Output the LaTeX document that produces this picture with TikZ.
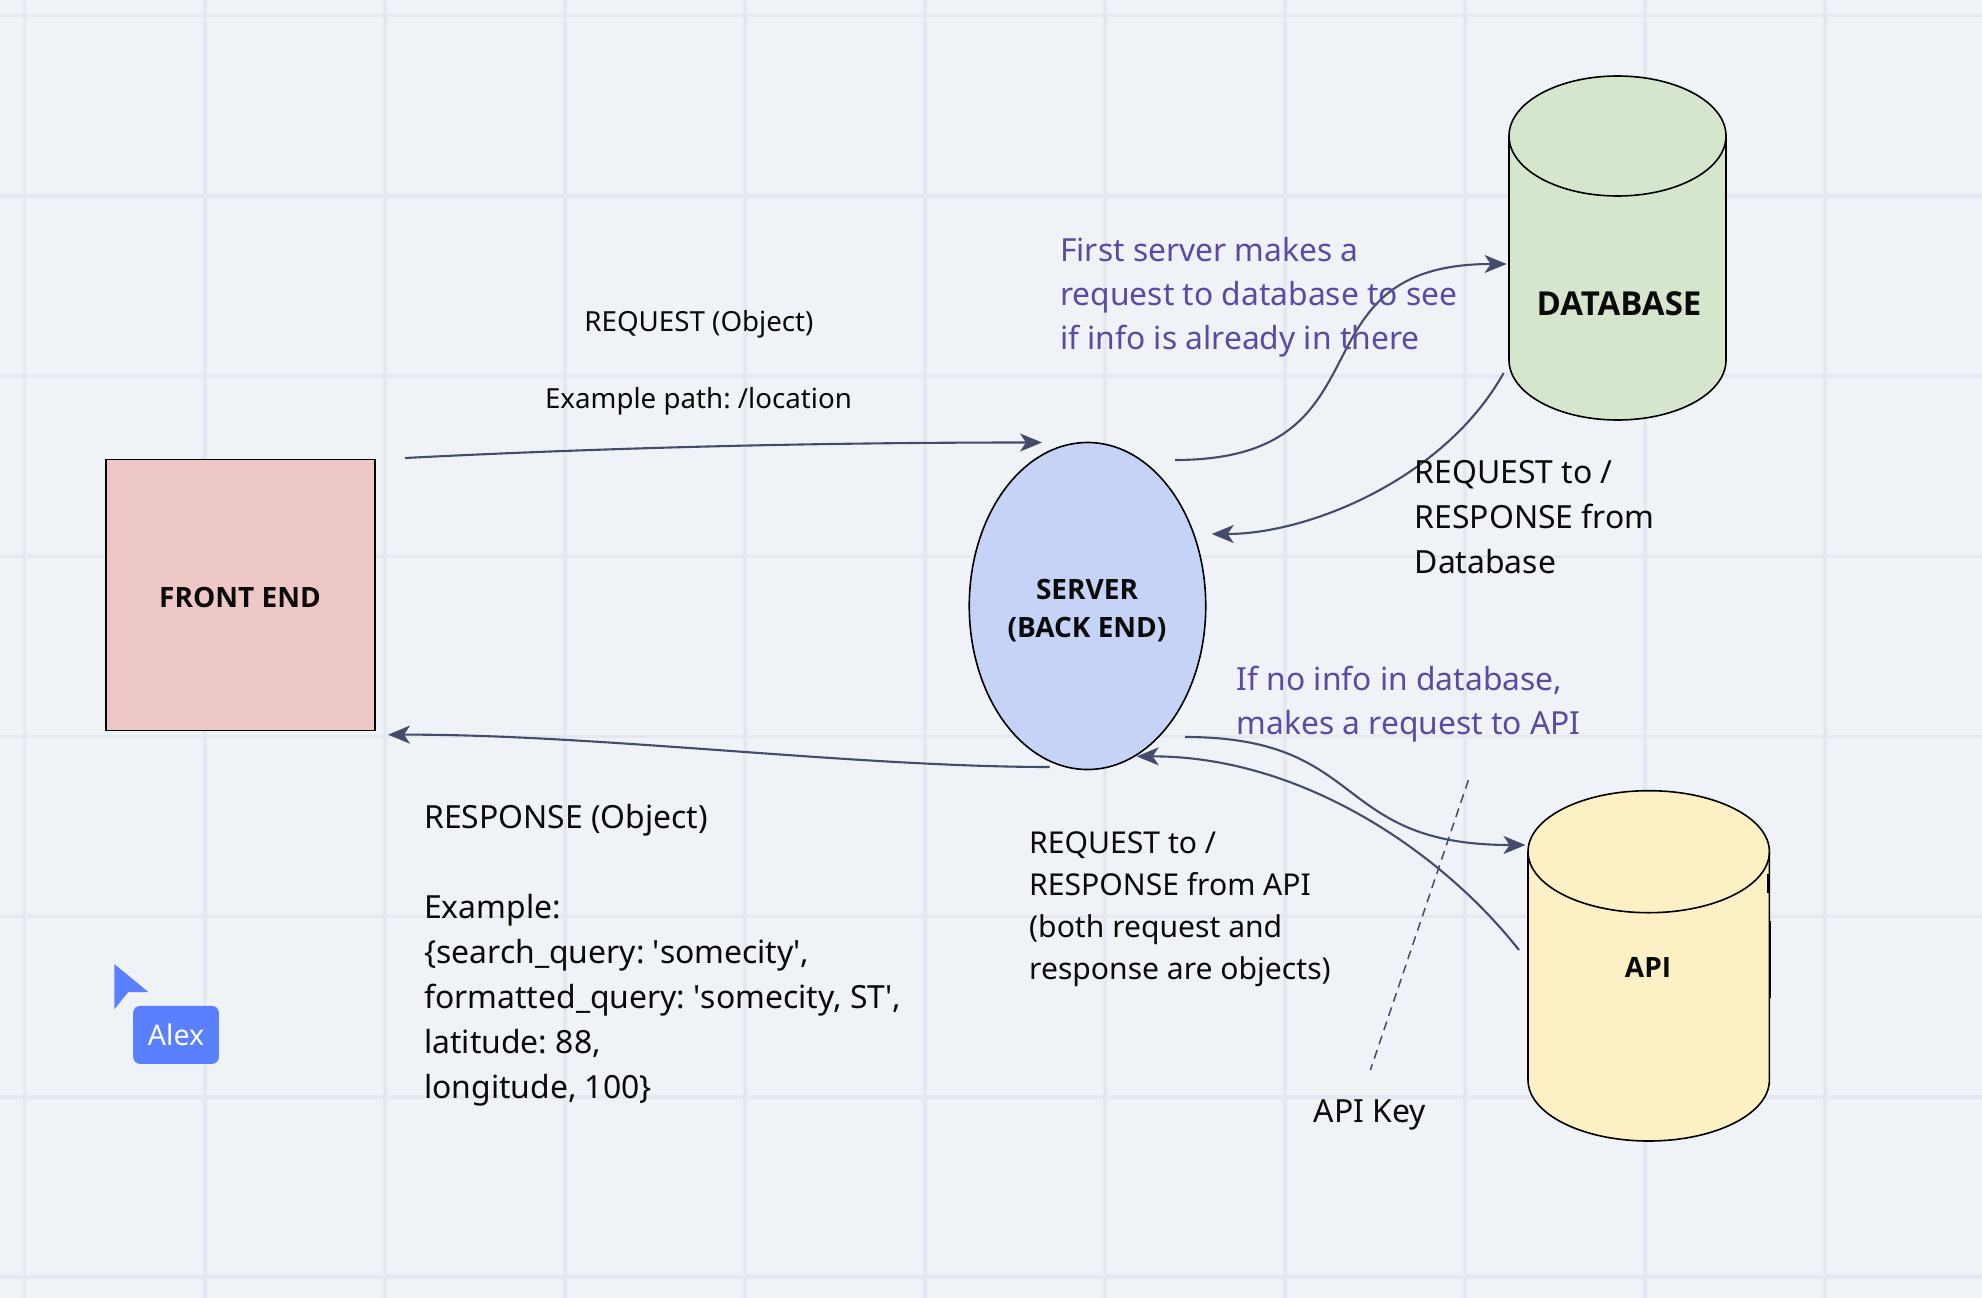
\documentclass[tikz,border=0pt]{standalone}
\usepackage{fontspec}
\setmainfont{Noto Sans}
\newfontfamily\titlefont{Open Sans}
\usetikzlibrary{arrows.meta,shapes.geometric}
\definecolor{bgc}{HTML}{EFF2F7}
\definecolor{gridc}{HTML}{E5E8F0}
\definecolor{linec}{HTML}{444B6B}
\definecolor{purp}{HTML}{5B4AA3}
\definecolor{txt}{HTML}{0A0A0A}
\definecolor{pinkc}{HTML}{EEC8C6}
\definecolor{bluec}{HTML}{C4D3F6}
\definecolor{greenc}{HTML}{D6E6CD}
\definecolor{yellowc}{HTML}{FCF0C4}
\definecolor{cursorc}{HTML}{5A7FFF}
\tikzset{
  x=1pt,y=-1pt,
  gridline/.style={gridc,line width=3.2pt},
  conn/.style={linec,line width=2.1pt,-{Stealth[length=22pt,width=18pt,inset=6pt]}},
  shapeline/.style={draw=black,line width=1.6pt},
  lbl/.style={anchor=base west,inner sep=0pt,align=left,text=txt,font=\fontsize{31.9}{45}\selectfont\frenchspacing},
  note/.style={lbl,text=purp,font=\fontsize{31.8}{44}\selectfont\frenchspacing},
  small/.style={lbl,font=\fontsize{30.1}{42}\selectfont\frenchspacing},
  tiny/.style={lbl,anchor=base,font=\fontsize{27.7}{38}\selectfont\frenchspacing},
  title/.style={inner sep=0pt,anchor=base,align=center,text=txt,font=\titlefont\fontsize{28}{38}\selectfont\bfseries},
}
\newcommand{\cyl}[6]{% cx, rx, ry, topcentre y, bottomcentre y, fill
  \fill[#6] ({#1-#2},#4) arc[start angle=180,end angle=0,x radius=#2,y radius=-#3]
     -- ({#1+#2},#5) arc[start angle=0,end angle=-180,x radius=#2,y radius=-#3] -- cycle;
  \draw[shapeline] ({#1-#2},#4) arc[start angle=180,end angle=0,x radius=#2,y radius=-#3]
     -- ({#1+#2},#5) arc[start angle=0,end angle=-180,x radius=#2,y radius=-#3] -- cycle;
  \draw[shapeline] ({#1-#2},#4) arc[start angle=180,end angle=360,x radius=#2,y radius=-#3];
}
\begin{document}
\begin{tikzpicture}
\useasboundingbox (0,0) rectangle (1982,1298);
\fill[bgc] (0,0) rectangle (1982,1298);
\foreach \gx in {24.7,205,385,565,745,925,1105,1285,1465,1645,1825}
  \draw[gridline] (\gx,0) -- (\gx,1298);
\foreach \gy in {15.5,196,376,556.5,736.5,916.5,1097,1277}
  \draw[gridline] (0,\gy) -- (1982,\gy);

% shapes
\node[shapeline,fill=pinkc,rectangle,anchor=north west,minimum width=269pt,minimum height=271pt,inner sep=0pt] (front) at (105.2,458.7) {};
\node[title] (frontlabel) at (240,607.8) {FRONT END};
\node[shapeline,fill=bluec,ellipse,minimum width=236.5pt,minimum height=327pt,inner sep=0pt] (server) at (1087.5,606) {};
\node[title] (serverlabel) at (1087,637) {SERVER\\(BACK END)};
\cyl{1617.5}{108.5}{60}{136}{360}{greenc}
\node[title,font=\titlefont\fontsize{33}{40}\selectfont\bfseries] (db) at (1619,315.3) {DATABASE};
\cyl{1648.7}{120.7}{61}{851.7}{1080}{yellowc}
\draw[black,line width=2.2pt] (1769.6,921) -- (1769.6,998);
\draw[black,line width=1.6pt] (1768,874) -- (1768,893);
\node[title] (api) at (1648,977.2) {API};

% connector ends
\coordinate (fe1) at (405,458);   \coordinate (sv1) at (1042,442.5);
\coordinate (sv2) at (1175,460);  \coordinate (db1) at (1506.6,264);
\coordinate (db2) at (1503.6,373);\coordinate (sv3) at (1211.7,534);
\coordinate (sv4) at (1049.6,767);\coordinate (fe2) at (388,734.7);
\coordinate (sv5) at (1185,737);  \coordinate (ap1) at (1525.5,845);
\coordinate (ap2) at (1519,950);  \coordinate (sv6) at (1136.7,756.4);
\coordinate (ks) at (1468.4,780); \coordinate (ke) at (1370.4,1070);

\draw[conn] (fe1) .. controls (620,447) and (830,442.5) .. (sv1);
\draw[conn] (sv2) .. controls (1398,460) and (1285,264) .. (db1);
\draw[conn] (db2) .. controls (1445,478) and (1310,534) .. (sv3);
\draw[conn] (sv4) .. controls (855,767) and (595,734) .. (fe2);
\draw[conn] (sv5) .. controls (1370,737) and (1330,845) .. (ap1);
\draw[conn] (ap2) .. controls (1440,850) and (1300,756) .. (sv6);
\draw[linec,line width=1.5pt,dash pattern=on 9pt off 6pt] (ks) -- (ke);

% labels
\node[tiny] (reqobj) at (699,331) {REQUEST (Object)};
\node[tiny] (reqpath) at (698.5,408) {Example path: /location};
\node[note] (n1) at (1060,349.5) {First server makes a\\request to database to see\\if info is already in there};
\node[lbl] (l1) at (1414.5,573.2) {REQUEST to /\\RESPONSE from\\Database};
\node[note] (n2) at (1236.5,734.9) {If no info in database,\\makes a request to API};
\node[small] (l2) at (1029,979.2) {REQUEST to /\\RESPONSE from API\\(both request and\\response are objects)};
\node[lbl] (l3) at (424,1098.5) {RESPONSE (Object)\\[\baselineskip]Example:\\\{search\_query: \textquotesingle somecity\textquotesingle,\\formatted\_query: \textquotesingle somecity, ST\textquotesingle,\\latitude: 88,\\longitude, 100\}};
\node[lbl,anchor=base] (key) at (1370,1122.2) {API Key};

% cursor
\fill[cursorc] (114.3,964) -- (148.3,992) -- (128.3,992) -- (114.3,1009.3) -- cycle;
\node[fill=cursorc,rounded corners=7pt,anchor=north west,minimum width=85.7pt,minimum height=58pt,inner sep=0pt,text=white,font=\fontsize{28.5}{32}\selectfont] (alex) at (133,1005.7) {\raisebox{-2pt}{Alex}};
\end{tikzpicture}
\end{document}
